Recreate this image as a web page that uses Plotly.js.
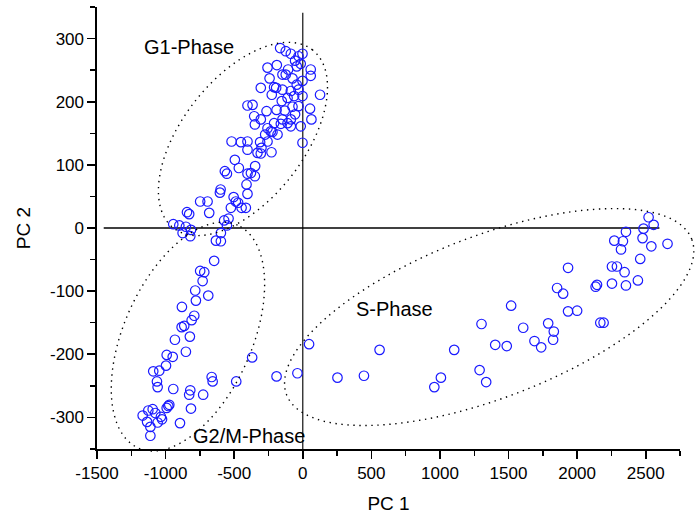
<!DOCTYPE html>
<html>
<head>
<meta charset="utf-8">
<script src="https://cdn.plot.ly/plotly-3.0.1.min.js"></script>
<style>
  html, body { margin: 0; padding: 0; background: #fff; }
  #chart { width: 696px; height: 514px; }
</style>
</head>
<body>
<div id="chart"></div>
<script>
// PCA scores: PC 1 vs PC 2, grouped by cell-cycle phase
const g1X = [
  -165, -124, -87, -31, -2, -56, -15, -44, 58, 58,
  -257, -189, -107, -148, -124, -75, -44, -2, -242, -306,
  -209, -194, -226, -148, -87, -31, -2, -63, 126, -111,
  -153, -403, -366, -264, -191, -131, -75, -31, 53, -354,
  -306, -56, -87, -148, 63, -349, -209, -160, -111, -87,
  -15, -257, -233, -274, -184, -221, -311, -257, -2, -519,
  -451, -403, -403, -330, -306, -228, -301, -495, -466, -568,
  -553, -378, -403, -349, -410, -599, -604, -403, -504, -488,
  -471, -446, -415, -748, -694, -682, -844, -828, -524, -541,
  -573, -553, -944, -900, -852, -815, -876, -820, -633, -597, -597,
  -347
];
const g1Y = [
  285, 280, 276, 272, 276, 265, 260, 256, 251, 241,
  254, 258, 251, 243, 243, 237, 227, 233, 237, 222,
  223, 222, 211, 219, 217, 219, 209, 209, 211, 206,
  201, 194, 195, 185, 187, 186, 192, 193, 189, 177,
  172, 180, 172, 172, 172, 164, 166, 165, 166, 161,
  161, 158, 153, 148, 148, 152, 136, 137, 135, 137,
  136, 137, 124, 119, 118, 120, 127, 108, 95, 90,
  86, 87, 86, 82, 69, 61, 56, 54, 49, 42,
  40, 32, 32, 42, 42, 24, 25, 22, 32, 15,
  12, 4, 6, 4, 2, -3, -8, -13, -20, -21, -8,
  98
];

const g2mX = [
  -646, -748, -718, -730, -784, -689, -779, -881, -791, -810,
  -864, -883, -823, -932, -852, -992, -948, -997, -1090, -1046,
  -1063, -1058, -944, -820, -828, -726, -664, -657, -485, -369,
  -815, -980, -992, -1026, -1075, -1094, -1126, -1167, -1135, -1111,
  -1111, -1058, -895, -973, -1034
];
const g2mY = [
  -52, -68, -70, -84, -99, -107, -115, -125, -139, -146,
  -155, -157, -172, -177, -196, -201, -204, -218, -227, -226,
  -243, -252, -255, -257, -264, -264, -236, -243, -243, -205,
  -286, -282, -285, -303, -293, -287, -289, -297, -307, -315,
  -329, -308, -309, -280, -299
];

const sX = [
  46, -191, -39, 253, 446, 560, 959, 1007, 1104, 1289,
  1337, 1303, 1403, 1487, 1519, 1607, 1689, 1738, 1789, 1830,
  1825, 1854, 1898, 1934, 1934, 2000, 2169, 2193, 2145, 2135,
  2254, 2356, 2254, 2290, 2346, 2443, 2460, 2271, 2334, 2320,
  2356, 2484, 2477, 2521, 2558, 2541, 2659
];
const sY = [
  -184, -235, -230, -237, -234, -193, -252, -237, -193, -225,
  -244, -152, -185, -187, -123, -158, -179, -189, -151, -164,
  -177, -95, -104, -63, -132, -131, -150, -150, -90, -93,
  -88, -91, -61, -61, -70, -83, -49, -20, -21, -34,
  -6, -1, -16, 17, 5, -29, -25
];

// axis ticks
const xTickVals = [-1500, -1000, -500, 0, 500, 1000, 1500, 2000, 2500];
const xTickText = ['-1500', '-1000', '-500', '0', '500', '1000', '1500', '2000', '2500'];
const yTickVals = [-300, -200, -100, 0, 100, 200, 300];
const yTickText = ['-300', '-200', '-100', '0', '100', '200', '300'];

// phase labels
const phaseNames = ['G1-Phase', 'S-Phase', 'G2/M-Phase'];
const phaseLabelX = [-827, 669, -390];
const phaseLabelY = [287, -128, -329];

const xRange = [-1500, 2750];
const yRange = [-350, 350];
const W = 696, H = 514;
const margin = { l: 97, r: 16, t: 7, b: 65, pad: 0 };
const plotW = W - margin.l - margin.r;
const plotH = H - margin.t - margin.b;

// dotted grouping ellipse: centre in data units, semi-axes in pixels,
// tilt in screen degrees; returned as a paper-referenced SVG path
function ellipsePath(cx, cy, a, b, deg) {
  const x0 = (cx - xRange[0]) / (xRange[1] - xRange[0]);
  const y0 = (cy - yRange[0]) / (yRange[1] - yRange[0]);
  const th = deg * Math.PI / 180;
  const n = 180;
  let d = '';
  for (let i = 0; i <= n; i++) {
    const t = 2 * Math.PI * i / n;
    const ex = a * Math.cos(t) * Math.cos(th) - b * Math.sin(t) * Math.sin(th);
    const ey = a * Math.cos(t) * Math.sin(th) + b * Math.sin(t) * Math.cos(th);
    d += (i ? 'L' : 'M') + (x0 + ex / plotW).toFixed(5) + ',' + (y0 + ey / plotH).toFixed(5);
  }
  return d + 'Z';
}

const ellipseStyle = { color: '#000', width: 1.4, dash: '1.4px,4.6px' };

const markerStyle = {
  symbol: 'circle-open',
  size: 9.5,
  color: '#1a1aff',
  line: { width: 1.2 }
};

const traces = [
  { x: g1X, y: g1Y, name: 'G1', type: 'scatter', mode: 'markers', marker: markerStyle },
  { x: g2mX, y: g2mY, name: 'G2/M', type: 'scatter', mode: 'markers', marker: markerStyle },
  { x: sX, y: sY, name: 'S', type: 'scatter', mode: 'markers', marker: markerStyle }
];

const font = 'Liberation Sans, Arial, sans-serif';

const layout = {
  width: W,
  height: H,
  margin: margin,
  paper_bgcolor: '#fff',
  plot_bgcolor: '#fff',
  showlegend: false,
  font: { family: font, color: '#000' },
  xaxis: {
    range: xRange,
    tickvals: xTickVals,
    ticktext: xTickText,
    showgrid: false,
    zeroline: false,
    showline: true,
    linecolor: '#000',
    linewidth: 1.6,
    ticks: 'outside',
    ticklen: 8,
    tickwidth: 1.6,
    tickcolor: '#000',
    minor: { dtick: 250, tick0: -1500, ticks: 'outside', ticklen: 5, tickwidth: 1.4, tickcolor: '#000', showgrid: false },
    tickfont: { family: font, size: 17, color: '#000' },
    title: { text: 'PC 1', font: { family: font, size: 19, color: '#000' }, standoff: 16 }
  },
  yaxis: {
    range: yRange,
    tickvals: yTickVals,
    ticktext: yTickText,
    showgrid: false,
    zeroline: false,
    showline: true,
    linecolor: '#000',
    linewidth: 1.6,
    ticks: 'outside',
    ticklen: 8,
    tickwidth: 1.6,
    tickcolor: '#000',
    minor: { dtick: 50, tick0: 0, ticks: 'outside', ticklen: 5, tickwidth: 1.4, tickcolor: '#000', showgrid: false },
    tickfont: { family: font, size: 17, color: '#000' },
    title: { text: 'PC 2', font: { family: font, size: 19, color: '#000' }, standoff: 14 }
  },
  shapes: [
    // reference lines through the origin
    { type: 'line', xref: 'x', yref: 'y', x0: 0, x1: 0, y0: -350, y1: 341,
      line: { color: '#222', width: 1.3 }, layer: 'below' },
    { type: 'line', xref: 'x', yref: 'y', x0: -1451, x1: 2600, y0: 0, y1: 0,
      line: { color: '#000', width: 1.3 }, layer: 'below' },
    // phase groupings
    { type: 'path', xref: 'paper', yref: 'paper', path: ellipsePath(-436, 141, 113, 61, 52), line: ellipseStyle },
    { type: 'path', xref: 'paper', yref: 'paper', path: ellipsePath(-837, -172, 122, 64, 66), line: ellipseStyle },
    { type: 'path', xref: 'paper', yref: 'paper', path: ellipsePath(1359, -141, 217, 81, 21), line: ellipseStyle }
  ],
  annotations: phaseNames.map((t, i) => ({
    text: t, x: phaseLabelX[i], y: phaseLabelY[i], xref: 'x', yref: 'y',
    showarrow: false, xanchor: 'center', yanchor: 'middle',
    font: { family: font, size: 20, color: '#000' }
  }))
};

Plotly.newPlot('chart', traces, layout, { displayModeBar: false, staticPlot: true });
</script>
</body>
</html>
